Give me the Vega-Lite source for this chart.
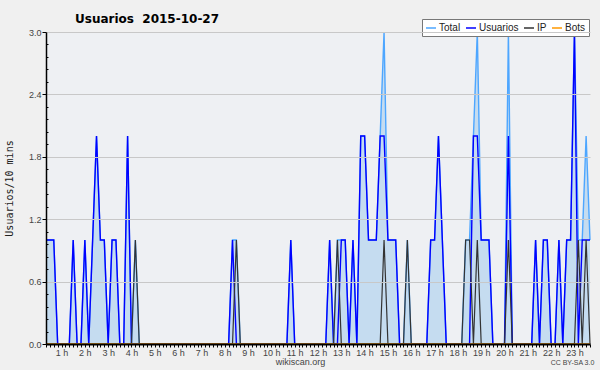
{
  "$schema": "https://vega.github.io/schema/vega-lite/v6.json",
  "autosize": "none",
  "width": 544,
  "height": 312,
  "padding": {"left": 46, "top": 32, "right": 10, "bottom": 26},
  "background": "#f0f0f0",
  "title": {"text": "Usuarios \u00a02015-10-27", "anchor": "start", "frame": "group", "dx": 29, "dy": 14, "offset": 7, "fontSize": 12, "fontWeight": "bold", "font": "DejaVu Sans", "color": "#000000"},
  "data": {"values": [
    {"m": 20, "Total": 1, "Usuarios": 1, "IP": 0, "Bots": 0},
    {"m": 30, "Total": 1, "Usuarios": 1, "IP": 0, "Bots": 0},
    {"m": 40, "Total": 1, "Usuarios": 1, "IP": 0, "Bots": 0},
    {"m": 50, "Total": 0, "Usuarios": 0, "IP": 0, "Bots": 0},
    {"m": 60, "Total": 0, "Usuarios": 0, "IP": 0, "Bots": 0},
    {"m": 70, "Total": 0, "Usuarios": 0, "IP": 0, "Bots": 0},
    {"m": 80, "Total": 0, "Usuarios": 0, "IP": 0, "Bots": 0},
    {"m": 90, "Total": 1, "Usuarios": 1, "IP": 0, "Bots": 0},
    {"m": 100, "Total": 0, "Usuarios": 0, "IP": 0, "Bots": 0},
    {"m": 110, "Total": 0, "Usuarios": 0, "IP": 0, "Bots": 0},
    {"m": 120, "Total": 1, "Usuarios": 1, "IP": 0, "Bots": 0},
    {"m": 130, "Total": 0, "Usuarios": 0, "IP": 0, "Bots": 0},
    {"m": 140, "Total": 1, "Usuarios": 1, "IP": 0, "Bots": 0},
    {"m": 150, "Total": 2, "Usuarios": 2, "IP": 0, "Bots": 0},
    {"m": 160, "Total": 1, "Usuarios": 1, "IP": 0, "Bots": 0},
    {"m": 170, "Total": 1, "Usuarios": 1, "IP": 0, "Bots": 0},
    {"m": 180, "Total": 0, "Usuarios": 0, "IP": 0, "Bots": 0},
    {"m": 190, "Total": 1, "Usuarios": 1, "IP": 0, "Bots": 0},
    {"m": 200, "Total": 1, "Usuarios": 1, "IP": 0, "Bots": 0},
    {"m": 210, "Total": 0, "Usuarios": 0, "IP": 0, "Bots": 0},
    {"m": 220, "Total": 0, "Usuarios": 0, "IP": 0, "Bots": 0},
    {"m": 230, "Total": 2, "Usuarios": 2, "IP": 0, "Bots": 0},
    {"m": 240, "Total": 0, "Usuarios": 0, "IP": 0, "Bots": 0},
    {"m": 250, "Total": 1, "Usuarios": 0, "IP": 1, "Bots": 0},
    {"m": 260, "Total": 0, "Usuarios": 0, "IP": 0, "Bots": 0},
    {"m": 270, "Total": 0, "Usuarios": 0, "IP": 0, "Bots": 0},
    {"m": 280, "Total": 0, "Usuarios": 0, "IP": 0, "Bots": 0},
    {"m": 290, "Total": 0, "Usuarios": 0, "IP": 0, "Bots": 0},
    {"m": 300, "Total": 0, "Usuarios": 0, "IP": 0, "Bots": 0},
    {"m": 310, "Total": 0, "Usuarios": 0, "IP": 0, "Bots": 0},
    {"m": 320, "Total": 0, "Usuarios": 0, "IP": 0, "Bots": 0},
    {"m": 330, "Total": 0, "Usuarios": 0, "IP": 0, "Bots": 0},
    {"m": 340, "Total": 0, "Usuarios": 0, "IP": 0, "Bots": 0},
    {"m": 350, "Total": 0, "Usuarios": 0, "IP": 0, "Bots": 0},
    {"m": 360, "Total": 0, "Usuarios": 0, "IP": 0, "Bots": 0},
    {"m": 370, "Total": 0, "Usuarios": 0, "IP": 0, "Bots": 0},
    {"m": 380, "Total": 0, "Usuarios": 0, "IP": 0, "Bots": 0},
    {"m": 390, "Total": 0, "Usuarios": 0, "IP": 0, "Bots": 0},
    {"m": 400, "Total": 0, "Usuarios": 0, "IP": 0, "Bots": 0},
    {"m": 410, "Total": 0, "Usuarios": 0, "IP": 0, "Bots": 0},
    {"m": 420, "Total": 0, "Usuarios": 0, "IP": 0, "Bots": 0},
    {"m": 430, "Total": 0, "Usuarios": 0, "IP": 0, "Bots": 0},
    {"m": 440, "Total": 0, "Usuarios": 0, "IP": 0, "Bots": 0},
    {"m": 450, "Total": 0, "Usuarios": 0, "IP": 0, "Bots": 0},
    {"m": 460, "Total": 0, "Usuarios": 0, "IP": 0, "Bots": 0},
    {"m": 470, "Total": 0, "Usuarios": 0, "IP": 0, "Bots": 0},
    {"m": 480, "Total": 0, "Usuarios": 0, "IP": 0, "Bots": 0},
    {"m": 490, "Total": 0, "Usuarios": 0, "IP": 0, "Bots": 0},
    {"m": 500, "Total": 1, "Usuarios": 1, "IP": 0, "Bots": 0},
    {"m": 510, "Total": 1, "Usuarios": 0, "IP": 1, "Bots": 0},
    {"m": 520, "Total": 0, "Usuarios": 0, "IP": 0, "Bots": 0},
    {"m": 530, "Total": 0, "Usuarios": 0, "IP": 0, "Bots": 0},
    {"m": 540, "Total": 0, "Usuarios": 0, "IP": 0, "Bots": 0},
    {"m": 550, "Total": 0, "Usuarios": 0, "IP": 0, "Bots": 0},
    {"m": 560, "Total": 0, "Usuarios": 0, "IP": 0, "Bots": 0},
    {"m": 570, "Total": 0, "Usuarios": 0, "IP": 0, "Bots": 0},
    {"m": 580, "Total": 0, "Usuarios": 0, "IP": 0, "Bots": 0},
    {"m": 590, "Total": 0, "Usuarios": 0, "IP": 0, "Bots": 0},
    {"m": 600, "Total": 0, "Usuarios": 0, "IP": 0, "Bots": 0},
    {"m": 610, "Total": 0, "Usuarios": 0, "IP": 0, "Bots": 0},
    {"m": 620, "Total": 0, "Usuarios": 0, "IP": 0, "Bots": 0},
    {"m": 630, "Total": 0, "Usuarios": 0, "IP": 0, "Bots": 0},
    {"m": 640, "Total": 0, "Usuarios": 0, "IP": 0, "Bots": 0},
    {"m": 650, "Total": 1, "Usuarios": 1, "IP": 0, "Bots": 0},
    {"m": 660, "Total": 0, "Usuarios": 0, "IP": 0, "Bots": 0},
    {"m": 670, "Total": 0, "Usuarios": 0, "IP": 0, "Bots": 0},
    {"m": 680, "Total": 0, "Usuarios": 0, "IP": 0, "Bots": 0},
    {"m": 690, "Total": 0, "Usuarios": 0, "IP": 0, "Bots": 0},
    {"m": 700, "Total": 0, "Usuarios": 0, "IP": 0, "Bots": 0},
    {"m": 710, "Total": 0, "Usuarios": 0, "IP": 0, "Bots": 0},
    {"m": 720, "Total": 0, "Usuarios": 0, "IP": 0, "Bots": 0},
    {"m": 730, "Total": 0, "Usuarios": 0, "IP": 0, "Bots": 0},
    {"m": 740, "Total": 0, "Usuarios": 0, "IP": 0, "Bots": 0},
    {"m": 750, "Total": 1, "Usuarios": 1, "IP": 0, "Bots": 0},
    {"m": 760, "Total": 0, "Usuarios": 0, "IP": 0, "Bots": 0},
    {"m": 770, "Total": 1, "Usuarios": 0, "IP": 1, "Bots": 0},
    {"m": 780, "Total": 1, "Usuarios": 1, "IP": 0, "Bots": 0},
    {"m": 790, "Total": 1, "Usuarios": 1, "IP": 0, "Bots": 0},
    {"m": 800, "Total": 0, "Usuarios": 0, "IP": 0, "Bots": 0},
    {"m": 810, "Total": 1, "Usuarios": 1, "IP": 0, "Bots": 0},
    {"m": 820, "Total": 0, "Usuarios": 0, "IP": 0, "Bots": 0},
    {"m": 830, "Total": 2, "Usuarios": 2, "IP": 0, "Bots": 0},
    {"m": 840, "Total": 2, "Usuarios": 2, "IP": 0, "Bots": 0},
    {"m": 850, "Total": 1, "Usuarios": 1, "IP": 0, "Bots": 0},
    {"m": 860, "Total": 1, "Usuarios": 1, "IP": 0, "Bots": 0},
    {"m": 870, "Total": 1, "Usuarios": 1, "IP": 0, "Bots": 0},
    {"m": 880, "Total": 2, "Usuarios": 2, "IP": 0, "Bots": 0},
    {"m": 890, "Total": 3, "Usuarios": 2, "IP": 1, "Bots": 0},
    {"m": 900, "Total": 1, "Usuarios": 1, "IP": 0, "Bots": 0},
    {"m": 910, "Total": 1, "Usuarios": 1, "IP": 0, "Bots": 0},
    {"m": 920, "Total": 1, "Usuarios": 1, "IP": 0, "Bots": 0},
    {"m": 930, "Total": 0, "Usuarios": 0, "IP": 0, "Bots": 0},
    {"m": 940, "Total": 0, "Usuarios": 0, "IP": 0, "Bots": 0},
    {"m": 950, "Total": 1, "Usuarios": 0, "IP": 1, "Bots": 0},
    {"m": 960, "Total": 0, "Usuarios": 0, "IP": 0, "Bots": 0},
    {"m": 970, "Total": 0, "Usuarios": 0, "IP": 0, "Bots": 0},
    {"m": 980, "Total": 0, "Usuarios": 0, "IP": 0, "Bots": 0},
    {"m": 990, "Total": 0, "Usuarios": 0, "IP": 0, "Bots": 0},
    {"m": 1000, "Total": 0, "Usuarios": 0, "IP": 0, "Bots": 0},
    {"m": 1010, "Total": 1, "Usuarios": 1, "IP": 0, "Bots": 0},
    {"m": 1020, "Total": 1, "Usuarios": 1, "IP": 0, "Bots": 0},
    {"m": 1030, "Total": 2, "Usuarios": 2, "IP": 0, "Bots": 0},
    {"m": 1040, "Total": 1, "Usuarios": 1, "IP": 0, "Bots": 0},
    {"m": 1050, "Total": 0, "Usuarios": 0, "IP": 0, "Bots": 0},
    {"m": 1060, "Total": 0, "Usuarios": 0, "IP": 0, "Bots": 0},
    {"m": 1070, "Total": 0, "Usuarios": 0, "IP": 0, "Bots": 0},
    {"m": 1080, "Total": 0, "Usuarios": 0, "IP": 0, "Bots": 0},
    {"m": 1090, "Total": 0, "Usuarios": 0, "IP": 0, "Bots": 0},
    {"m": 1100, "Total": 1, "Usuarios": 0, "IP": 1, "Bots": 0},
    {"m": 1110, "Total": 1, "Usuarios": 0, "IP": 1, "Bots": 0},
    {"m": 1120, "Total": 2, "Usuarios": 2, "IP": 0, "Bots": 0},
    {"m": 1130, "Total": 3, "Usuarios": 2, "IP": 1, "Bots": 0},
    {"m": 1140, "Total": 1, "Usuarios": 1, "IP": 0, "Bots": 0},
    {"m": 1150, "Total": 1, "Usuarios": 1, "IP": 0, "Bots": 0},
    {"m": 1160, "Total": 1, "Usuarios": 1, "IP": 0, "Bots": 0},
    {"m": 1170, "Total": 0, "Usuarios": 0, "IP": 0, "Bots": 0},
    {"m": 1180, "Total": 0, "Usuarios": 0, "IP": 0, "Bots": 0},
    {"m": 1190, "Total": 0, "Usuarios": 0, "IP": 0, "Bots": 0},
    {"m": 1200, "Total": 0, "Usuarios": 0, "IP": 0, "Bots": 0},
    {"m": 1210, "Total": 3, "Usuarios": 2, "IP": 1, "Bots": 0},
    {"m": 1220, "Total": 0, "Usuarios": 0, "IP": 0, "Bots": 0},
    {"m": 1230, "Total": 0, "Usuarios": 0, "IP": 0, "Bots": 0},
    {"m": 1240, "Total": 0, "Usuarios": 0, "IP": 0, "Bots": 0},
    {"m": 1250, "Total": 0, "Usuarios": 0, "IP": 0, "Bots": 0},
    {"m": 1260, "Total": 0, "Usuarios": 0, "IP": 0, "Bots": 0},
    {"m": 1270, "Total": 0, "Usuarios": 0, "IP": 0, "Bots": 0},
    {"m": 1280, "Total": 1, "Usuarios": 1, "IP": 0, "Bots": 0},
    {"m": 1290, "Total": 0, "Usuarios": 0, "IP": 0, "Bots": 0},
    {"m": 1300, "Total": 1, "Usuarios": 1, "IP": 0, "Bots": 0},
    {"m": 1310, "Total": 1, "Usuarios": 1, "IP": 0, "Bots": 0},
    {"m": 1320, "Total": 0, "Usuarios": 0, "IP": 0, "Bots": 0},
    {"m": 1330, "Total": 0, "Usuarios": 0, "IP": 0, "Bots": 0},
    {"m": 1340, "Total": 1, "Usuarios": 1, "IP": 0, "Bots": 0},
    {"m": 1350, "Total": 0, "Usuarios": 0, "IP": 0, "Bots": 0},
    {"m": 1360, "Total": 1, "Usuarios": 1, "IP": 0, "Bots": 0},
    {"m": 1370, "Total": 1, "Usuarios": 1, "IP": 0, "Bots": 0},
    {"m": 1380, "Total": 3, "Usuarios": 3, "IP": 0, "Bots": 0},
    {"m": 1390, "Total": 1, "Usuarios": 0, "IP": 1, "Bots": 0},
    {"m": 1400, "Total": 1, "Usuarios": 1, "IP": 0, "Bots": 0},
    {"m": 1410, "Total": 2, "Usuarios": 1, "IP": 1, "Bots": 0},
    {"m": 1420, "Total": 1, "Usuarios": 1, "IP": 0, "Bots": 0}
  ]},
  "encoding": {
    "x": {
      "field": "m", "type": "quantitative",
      "scale": {"domain": [20, 1420], "nice": false, "zero": false},
      "axis": {
        "values": [20,30,40,50,60,70,80,90,100,110,120,130,140,150,160,170,180,190,200,210,220,230,240,250,260,270,280,290,300,310,320,330,340,350,360,370,380,390,400,410,420,430,440,450,460,470,480,490,500,510,520,530,540,550,560,570,580,590,600,610,620,630,640,650,660,670,680,690,700,710,720,730,740,750,760,770,780,790,800,810,820,830,840,850,860,870,880,890,900,910,920,930,940,950,960,970,980,990,1000,1010,1020,1030,1040,1050,1060,1070,1080,1090,1100,1110,1120,1130,1140,1150,1160,1170,1180,1190,1200,1210,1220,1230,1240,1250,1260,1270,1280,1290,1300,1310,1320,1330,1340,1350,1360,1370,1380,1390,1400,1410,1420],
        "labelExpr": "datum.value % 60 == 0 ? (datum.value / 60) + ' h' : ''",
        "labelOverlap": false,
        "labelFlush": false,
        "labelBound": false,
        "labelFont": "Liberation Sans",
        "labelFontSize": 9,
        "labelColor": "#444444",
        "labelPadding": 1,
        "tickSize": 3,
        "tickColor": "#000000",
        "tickWidth": 1,
        "domainColor": "#000000",
        "domainWidth": 2,
        "grid": false,
        "zindex": 1,
        "title": "wikiscan.org",
        "titleFont": "Liberation Sans",
        "titleFontSize": 9,
        "titleFontWeight": "normal",
        "titleColor": "#444444",
        "titleX": 254,
        "titleY": 17,
        "titleBaseline": "middle",
        "titleAlign": "center"
      }
    }
  },
  "layer": [
    {
      "mark": {"type": "area", "color": "#c5dcf0", "opacity": 1},
      "encoding": {
        "y": {
          "field": "Total", "type": "quantitative",
          "scale": {"domain": [0, 3], "nice": false},
          "axis": {
            "values": [0,0.12,0.24,0.36,0.48,0.6,0.72,0.84,0.96,1.08,1.2,1.32,1.44,1.56,1.68,1.8,1.92,2.04,2.16,2.28,2.4,2.52,2.64,2.76,2.88,3.0],
            "labelExpr": "abs(datum.value / 0.6 - round(datum.value / 0.6)) < 0.001 ? format(datum.value, '.1f') : ''",
            "labelOverlap": false,
            "labelFlush": false,
            "labelFont": "Liberation Sans",
            "labelFontSize": 9,
            "labelColor": "#444444",
            "labelPadding": 1,
            "tickColor": "#000000",
            "tickSize": {"condition": {"test": "abs(datum.value / 0.6 - round(datum.value / 0.6)) < 0.001", "value": 4}, "value": -2},
            "grid": true,
            "gridColor": "#c8c8c8",
            "gridWidth": 1,
            "gridOpacity": {"condition": {"test": "abs(datum.value / 0.6 - round(datum.value / 0.6)) < 0.001 && datum.value > 0", "value": 1}, "value": 0},
            "domainColor": "#000000",
            "domainWidth": 1.5,
            "zindex": 1,
            "title": "Usuarios/10 mins",
            "titleFont": "DejaVu Sans Mono",
            "titleFontSize": 10,
            "titleFontWeight": "normal",
            "titleColor": "#222222",
            "titleX": -37,
            "titleY": 156,
            "titleAlign": "center",
            "titleBaseline": "middle"
          }
        }
      }
    },
    {
      "mark": {"type": "line", "strokeWidth": 1.4},
      "encoding": {
        "y": {"field": "Total", "type": "quantitative", "axis": null},
        "color": {
          "datum": "Total",
          "scale": {"domain": ["Total", "Usuarios", "IP", "Bots"], "range": ["#4da6ff", "#0000ff", "#333333", "#ff9900"]},
          "legend": {
            "title": null,
            "orient": "none",
            "legendX": 376,
            "legendY": -13,
            "direction": "horizontal",
            "fillColor": "#ffffff",
            "strokeColor": "#777777",
            "padding": 3,
            "symbolType": "stroke",
            "symbolSize": 100,
            "symbolStrokeWidth": 1.5,
            "labelFont": "Liberation Sans",
            "labelFontSize": 10,
            "labelColor": "#222222",
            "labelOffset": 2,
            "columnPadding": 2
          }
        }
      }
    },
    {
      "mark": {"type": "line", "strokeWidth": 1.4},
      "encoding": {
        "y": {"field": "Usuarios", "type": "quantitative", "axis": null},
        "color": {"datum": "Usuarios"}
      }
    },
    {
      "mark": {"type": "line", "strokeWidth": 1.2},
      "encoding": {
        "y": {"field": "IP", "type": "quantitative", "axis": null},
        "color": {"datum": "IP"}
      }
    },
    {
      "mark": {"type": "line", "strokeWidth": 1.5},
      "encoding": {
        "y": {
          "field": "Bots", "type": "quantitative",
          "axis": {
            "orient": "right",
            "labels": false,
            "ticks": false,
            "domain": false,
            "grid": false,
            "title": "CC BY-SA 3.0",
            "titleAngle": 0,
            "titleFont": "Liberation Sans",
            "titleFontSize": 7,
            "titleFontWeight": "normal",
            "titleColor": "#444444",
            "titleX": -18,
            "titleY": 330,
            "titleAlign": "center",
            "titleBaseline": "middle"
          }
        },
        "color": {"datum": "Bots"}
      }
    }
  ],
  "resolve": {"axis": {"y": "independent"}},
  "config": {
    "view": {"stroke": null, "fill": "#eef0f3"},
    "font": "Liberation Sans"
  }
}
